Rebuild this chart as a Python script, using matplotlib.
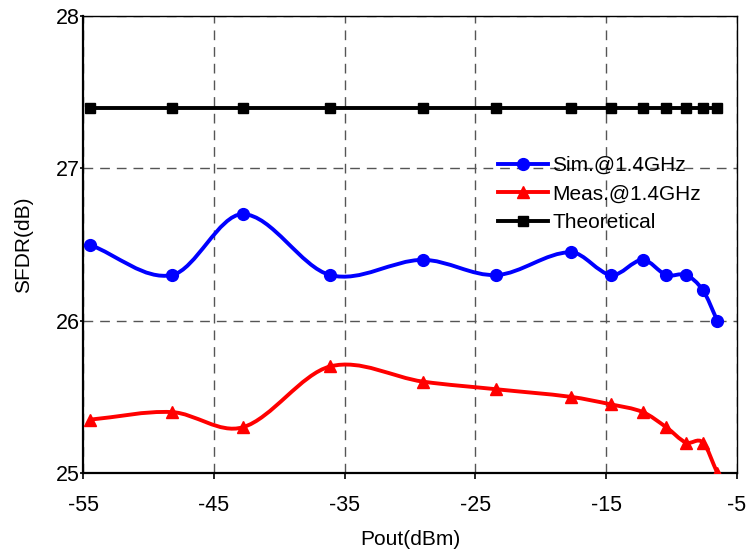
import numpy as np
import matplotlib.pyplot as plt
from matplotlib.path import Path
from matplotlib.patches import PathPatch
from matplotlib.lines import Line2D

plt.rcParams['font.family'] = ['Liberation Sans', 'DejaVu Sans']
plt.rcParams['axes.unicode_minus'] = False

# Datos
pout = [-54.5, -48.2, -42.8, -36.1, -29.0, -23.4, -17.7, -14.6, -12.2, -10.4, -8.9, -7.6, -6.5]
sim = [26.5, 26.3, 26.7, 26.3, 26.4, 26.3, 26.45, 26.3, 26.4, 26.3, 26.3, 26.2, 26.0]
meas = [25.35, 25.4, 25.3, 25.7, 25.6, 25.55, 25.5, 25.45, 25.4, 25.3, 25.2, 25.2, 25.0]
theo = [27.4] * len(pout)

xticks = [-55, -45, -35, -25, -15, -5]
yticks = [25, 26, 27, 28]


# -----------------------------
# Curva suavizada (Hermite -> Bezier)
# -----------------------------
def smooth_path(x, y):
    x = np.asarray(x, float)
    y = np.asarray(y, float)
    n = len(x)
    m = np.zeros(n)
    m[0] = (y[1] - y[0]) / (x[1] - x[0])
    m[-1] = (y[-1] - y[-2]) / (x[-1] - x[-2])
    m[1:-1] = (y[2:] - y[:-2]) / (x[2:] - x[:-2])
    verts = [(x[0], y[0])]
    codes = [Path.MOVETO]
    for i in range(n - 1):
        h = x[i + 1] - x[i]
        verts += [(x[i] + h / 3, y[i] + m[i] * h / 3),
                  (x[i + 1] - h / 3, y[i + 1] - m[i + 1] * h / 3),
                  (x[i + 1], y[i + 1])]
        codes += [Path.CURVE4] * 3
    return Path(verts, codes)


fig = plt.figure(figsize=(7.46, 5.5), dpi=100)
ax = fig.add_axes([0.1113, 0.14, 0.8766, 0.8305])

lw = 2.8
ax.add_patch(PathPatch(smooth_path(pout, sim), fill=False, edgecolor='blue', lw=lw, zorder=3))
ax.add_patch(PathPatch(smooth_path(pout, meas), fill=False, edgecolor='red', lw=lw, zorder=3))
ax.plot(pout, sim, 'o', color='blue', ms=8.5, zorder=4)
ax.plot(pout, meas, '^', color='red', ms=9, zorder=4)
ax.plot(pout, theo, '-s', color='black', lw=lw, ms=7.5, zorder=4)

ax.set_xlim(-55, -5)
ax.set_ylim(25, 28)
ax.set_xticks(xticks)
ax.set_yticks(yticks)
ax.grid(True, color='#555555', linestyle=(0, (7, 5)), linewidth=1.0)
ax.set_axisbelow(True)

ax.tick_params(axis='x', direction='out', length=4, width=1.2, pad=12, labelsize=15.5)
ax.tick_params(axis='y', direction='out', length=2, width=1.2, pad=0.5, labelsize=15.5)
for s in ['left', 'bottom']:
    ax.spines[s].set_linewidth(1.6)
for s in ['top', 'right']:
    ax.spines[s].set_linewidth(1.0)

ax.set_xlabel('Pout(dBm)', fontsize=15, labelpad=10)
ax.set_ylabel('SFDR(dB)', fontsize=15, labelpad=16)

handles = [
    Line2D([], [], color='blue', lw=lw, marker='o', ms=8.5),
    Line2D([], [], color='red', lw=lw, marker='^', ms=9),
    Line2D([], [], color='black', lw=lw, marker='s', ms=7.5),
]
ax.legend(handles, ['Sim.@1.4GHz', 'Meas.@1.4GHz', 'Theoretical'],
          loc='upper left', bbox_to_anchor=(0.668, 0.716), bbox_transform=fig.transFigure,
          frameon=False, fontsize=15, handlelength=2.4, handletextpad=0.2,
          labelspacing=0.45, borderaxespad=0, borderpad=0)

fig.savefig('out.png', dpi=100)
